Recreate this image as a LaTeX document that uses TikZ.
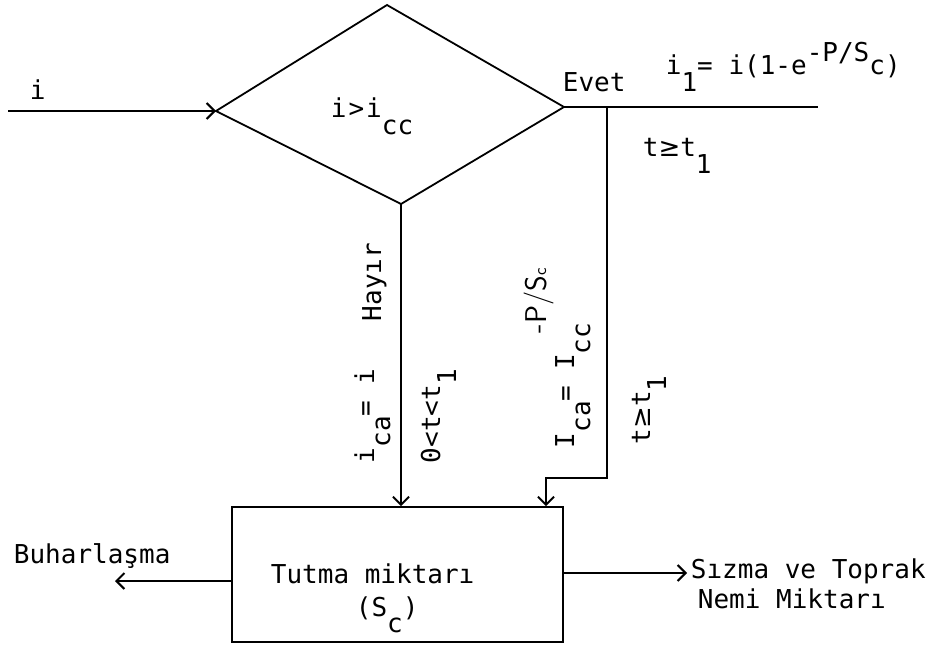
\documentclass[tikz,border=0pt]{standalone}
\usepackage{fontspec}
\usetikzlibrary{arrows.meta}
\setmonofont{DejaVu Sans Mono}
\newfontfamily\symf{DejaVu Sans}
\newcommand\dn[1]{\raisebox{-0.62em}{#1}}
\newcommand\up[1]{\raisebox{0.5em}{#1}}
\newcommand\gsym{{\symf ≥}}
\begin{document}
\begin{tikzpicture}[x=1pt,y=-1pt,
  font=\ttfamily\fontsize{26}{30}\selectfont,
  line width=1.8pt,
  tip/.style={-{Straight Barb[length=8pt,width=16pt,line width=2pt]}},
  lbl/.style={inner sep=0pt, anchor=base west},
  rlbl/.style={inner sep=0pt, anchor=base west, rotate=90}]
\useasboundingbox (0,0) rectangle (934,650);
% coordinates
\coordinate (in) at (8,111);
\coordinate (dL) at (216,111);
\coordinate (dT) at (387,5);
\coordinate (dR) at (564,107);
\coordinate (dB) at (401,204);
\coordinate (out) at (818,107);
\coordinate (j) at (607,107);
\coordinate (k1) at (607,478);
\coordinate (k2) at (546,478);
\coordinate (bw) at (115,581);
\coordinate (be) at (687,573);
% box
\node[draw, minimum width=331pt, minimum height=135pt, inner sep=0pt] (box) at (397.5,574.5) {};
% diamond
\draw (dL) -- (dT) -- (dR) -- (dB) -- cycle;
% connectors
\draw[tip] (in) -- (dL);
\draw (dR) -- (out);
\draw[tip] (dB) -- (dB |- box.north);
\draw[tip] (j) -- (k1) -- (k2) -- (k2 |- box.north);
\draw[tip] (box.west |- bw) -- (bw);
\draw[tip] (box.east |- be) -- (be);
% labels
\node[lbl] (ti) at (29,100) {i};
\node[lbl] (tc) at (330,118) {i\kern2pt>\kern2pt i\dn{cc}};
\node[lbl] (tev) at (562,92) {Evet};
\node[lbl] (tf) at (665,75) {i\dn{1}= i(1-e\up{-P/S}c)};
\node[lbl] (tg) at (642,157) {t\gsym t\dn{1}};
\node[lbl] (tt) at (270,583) {Tutma miktarı};
\node[lbl] (ts) at (355,616) {(S\dn{c})};
\node[lbl] (tb) at (13,563) {Buharlaşma};
\node[lbl] (tz) at (690,578) {Sızma ve Toprak};
\node[lbl] (tn) at (697,608) {Nemi Miktarı};
% rotated labels
\node[rlbl] (rh) at (381,322) {Hayır};
\node[rlbl] (ri) at (374,464) {i\dn{ca}= i};
\node[rlbl] (rt) at (440,464) {0<t<t\dn{1}};
\node[rlbl] (rp) at (546,334) {\sffamily\fontsize{30}{32}\selectfont -P/S{\fontsize{18}{20}\selectfont c}};
\node[rlbl] (rI) at (574,449) {I\dn{ca}= I\dn{cc}};
\node[rlbl] (rg) at (650,445) {t\gsym t\dn{1}};
\end{tikzpicture}
\end{document}
